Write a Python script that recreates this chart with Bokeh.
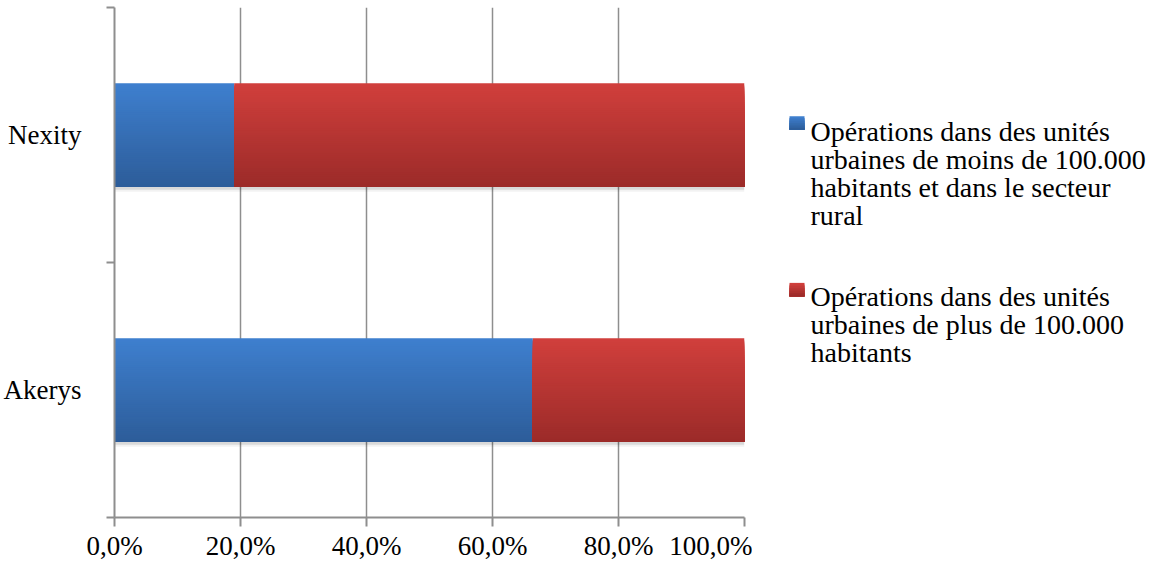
from bokeh.plotting import figure
from bokeh.layouts import row
from bokeh.models import Range1d, FixedTicker, ColumnDataSource
from bokeh.core.properties import value
from bokeh.embed import file_html
from bokeh.resources import INLINE

# ---- data ----
categories = ["Akerys", "Nexity"]
small_units = [66.4, 19.0]   # % operations in units < 100.000 inhabitants + rural
large_units = [33.6, 81.0]   # % operations in units > 100.000 inhabitants
series_names = [
    "Opérations dans des unités\nurbaines de moins de 100.000\nhabitants et dans le secteur\nrural",
    "Opérations dans des unités\nurbaines de plus de 100.000\nhabitants",
]
x_ticks = [0, 20, 40, 60, 80, 100]
x_tick_labels = ["0,0%", "20,0%", "40,0%", "60,0%", "80,0%", "100,0%"]

# ---- style ----
FONT = "Liberation Serif"
FS = "27px"
LFS = "28px"
GRAY = "#8e8e8e"
series_top = [(62, 127, 206), (208, 63, 60)]
series_bot = [(45, 93, 154), (156, 43, 41)]
BAR_H = 0.405
N = 50

p = figure(width=752, height=563, x_range=Range1d(0, 100), y_range=Range1d(0, 2),
           output_backend="svg", toolbar_location=None,
           min_border_left=105, min_border_right=8, min_border_top=7, min_border_bottom=0)
p.outline_line_color = None

values = [small_units, large_units]
ys = [i + 0.5 for i in range(len(categories))]
totals = [small_units[i] + large_units[i] for i in range(len(categories))]

# soft shadow
for dy, dx, a in [(0.020, 0.45, 0.05), (0.012, 0.3, 0.10)]:
    p.hbar(y=[y - dy for y in ys], left=[0] * len(ys), right=[t + dx for t in totals],
           height=BAR_H, fill_color="black", fill_alpha=a, line_color=None)

# gradient bars: each strip spans from its own top down to the bar bottom
lefts = [0.0] * len(categories)
for s, vals in enumerate(values):
    yy, hh, ll, rr, cc = [], [], [], [], []
    for i, v in enumerate(vals):
        top = ys[i] + BAR_H / 2
        bot = ys[i] - BAR_H / 2
        for k in range(N):
            t = k / (N - 1)
            col = tuple(int(round(series_top[s][c] * (1 - t) + series_bot[s][c] * t)) for c in range(3))
            st = top - k * BAR_H / N
            yy.append((st + bot) / 2)
            hh.append(st - bot)
            ll.append(lefts[i])
            rr.append(lefts[i] + v)
            cc.append("#%02x%02x%02x" % col)
    src = ColumnDataSource(dict(y=yy, h=hh, left=ll, right=rr, color=cc))
    p.hbar(y="y", left="left", right="right", height="h", fill_color="color",
           line_color=None, source=src)
    lefts = [lefts[i] + vals[i] for i in range(len(vals))]

# grid
p.xgrid.ticker = FixedTicker(ticks=x_ticks)
p.xgrid.grid_line_color = GRAY
p.xgrid.grid_line_width = 1.5
p.ygrid.grid_line_color = None

# x axis
xa = p.xaxis[0]
xa.ticker = FixedTicker(ticks=x_ticks)
xa.major_label_overrides = {t: l for t, l in zip(x_ticks, x_tick_labels)}
xa.axis_line_color = GRAY
xa.axis_line_width = 2
xa.major_tick_line_color = GRAY
xa.major_tick_line_width = 2
xa.major_tick_out = 9
xa.major_tick_in = 0
xa.minor_tick_line_color = None
xa.major_label_text_font = FONT
xa.major_label_text_font_size = FS
xa.major_label_text_color = "black"
xa.major_label_standoff = 4

# y axis
ya = p.yaxis[0]
ya.ticker = FixedTicker(ticks=ys, minor_ticks=[float(i) for i in range(len(categories) + 1)])
ya.major_label_overrides = {y: c for y, c in zip(ys, categories)}
ya.axis_line_color = GRAY
ya.axis_line_width = 2
ya.major_tick_line_color = None
ya.major_tick_out = 0
ya.major_tick_in = 0
ya.minor_tick_line_color = GRAY
ya.minor_tick_line_width = 2
ya.minor_tick_out = 8
ya.minor_tick_in = 0
ya.major_label_text_font = FONT
ya.major_label_text_font_size = FS
ya.major_label_text_color = "black"
ya.major_label_standoff = 25

# ---- legend panel (pixel coordinates of the page) ----
leg = figure(width=396, height=563, x_range=Range1d(760, 1156), y_range=Range1d(571, 8),
             output_backend="svg", toolbar_location=None,
             x_axis_location=None, y_axis_location=None,
             min_border_left=0, min_border_right=0, min_border_top=0, min_border_bottom=0)
leg.outline_line_color = None
leg.xgrid.visible = False
leg.ygrid.visible = False

LINE = 31
entries = [(145, 128), (327, 312)]
for s, name in enumerate(series_names):
    base, top = entries[s]
    # small gradient square
    for k in range(8):
        t = k / 7
        col = tuple(int(round(series_top[s][c] * (1 - t) + series_bot[s][c] * t)) for c in range(3))
        leg.quad(left=[797], right=[812], top=[top + k * 15 / 8], bottom=[top + 15],
                 fill_color="#%02x%02x%02x" % col, line_color=None)
    lines = name.split("\n")
    leg.text(x=[818] * len(lines), y=[base + k * LINE for k in range(len(lines))], text=lines,
             text_font=value(FONT), text_font_size=LFS, text_color="black",
             text_baseline="alphabetic", text_align="left")

layout = row(p, leg)
open("out.html", "w").write(file_html(layout, INLINE))
